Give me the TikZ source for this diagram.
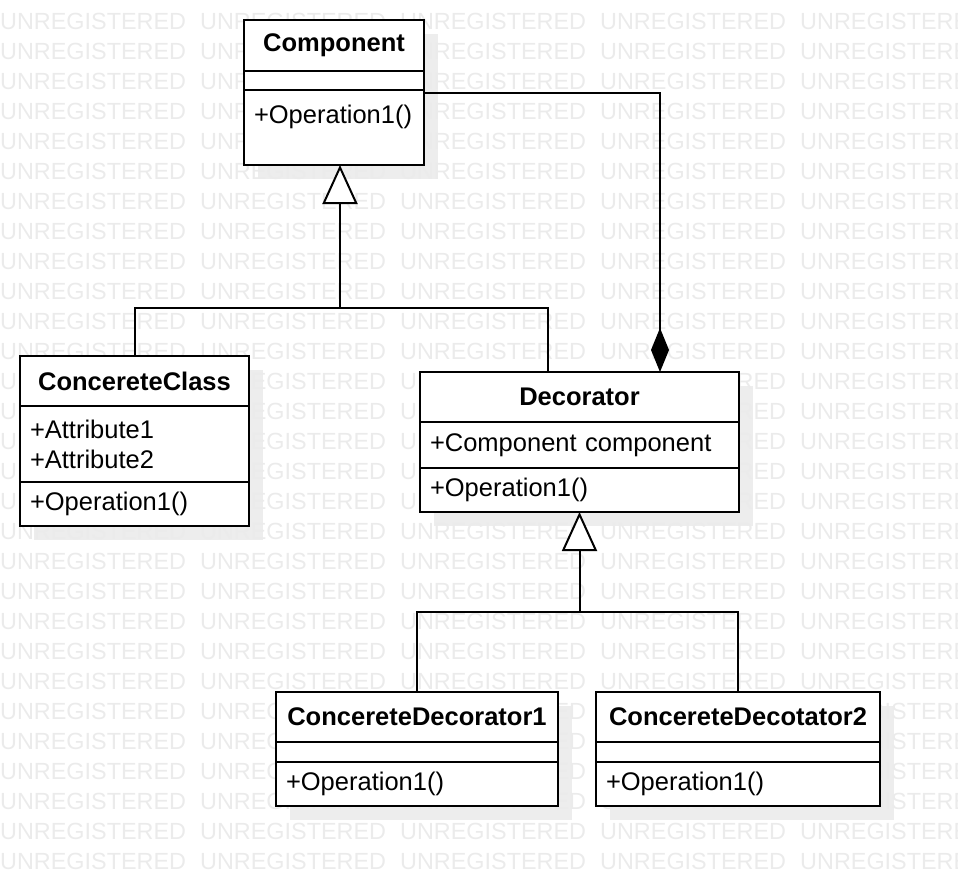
\documentclass[tikz,border=0pt]{standalone}
\usepackage{fontspec}
\setmainfont{Liberation Sans}
\usetikzlibrary{positioning,arrows.meta,backgrounds}

\begin{document}
\begin{tikzpicture}[x=1pt,y=-1pt,line width=2pt,
  every node/.style={font=\fontsize{25.5}{30}\selectfont},
  classhead/.style={draw,fill=white,outer sep=0pt,inner sep=0pt,minimum height=50pt,
    font=\fontsize{25.5}{30}\selectfont\bfseries},
  classpart/.style={draw,fill=white,outer sep=0pt,inner xsep=10pt,inner ysep=0pt,
    align=left,minimum height=44pt},
  wmark/.style={text=black!8,inner sep=0pt,anchor=base west,font=\fontsize{23.4}{28}\selectfont},
  boxshade/.style={fill=black!7,draw=none},
  gen/.style={-{Triangle[length=39pt,width=35pt,fill=white]}},
  owns/.style={-{Diamond[length=44pt,width=18pt]}}]

  \useasboundingbox (0,0) rectangle (958,886);

  % Component
  \node[classhead,minimum width=180pt,minimum height=51pt] (comphead) at (334,45.5) {Component};
  \node[classpart,text width=160pt,minimum height=19pt,below=0pt of comphead] (compattr) {};
  \node[classpart,text width=160pt,text height=33pt,text depth=42pt,below=0pt of compattr] (compops) {+Operation1()};

  % ConcereteClass
  \node[classhead,minimum width=229pt] (cchead) at (134.5,381) {ConcereteClass};
  \node[classpart,text width=209pt,minimum height=76pt,below=0pt of cchead] (ccattr) {+Attribute1\\+Attribute2};
  \node[classpart,text width=209pt,below=0pt of ccattr] (ccops) {+Operation1()};

  % Decorator
  \node[classhead,minimum width=319pt] (dechead) at (579.5,397) {Decorator};
  \node[classpart,text width=299pt,minimum height=46pt,below=0pt of dechead] (decattr) {+Component component};
  \node[classpart,text width=299pt,below=0pt of decattr] (decops) {+Operation1()};

  % concrete decorators
  \node[classhead,minimum width=282pt] (cd1head) at (417,717) {ConcereteDecorator1};
  \node[classpart,text width=262pt,minimum height=20pt,below=0pt of cd1head] (cd1attr) {};
  \node[classpart,text width=262pt,below=0pt of cd1attr] (cd1ops) {+Operation1()};

  \node[classhead,minimum width=284pt] (cd2head) at (738,717) {ConcereteDecotator2};
  \node[classpart,text width=264pt,minimum height=20pt,below=0pt of cd2head] (cd2attr) {};
  \node[classpart,text width=264pt,below=0pt of cd2attr] (cd2ops) {+Operation1()};

  \coordinate (compin) at ([xshift=6pt]compops.south);
  \coordinate (junc1) at (compin |- 0,308);
  \coordinate (decin) at ([xshift=-31.5pt]dechead.north);
  \coordinate (compout) at ([yshift=-3pt]compops.north east);
  \coordinate (decown) at ([xshift=80.5pt]dechead.north);
  \coordinate (junc2) at (decops.south |- 0,612);

  \draw (cchead.north) |- (junc1) -| (decin);
  \draw[gen] (junc1) -- (compin);
  \draw[owns] (compout) -| (decown);
  \draw (cd1head.north) |- (junc2) -| (cd2head.north);
  \draw[gen] (junc2) -- (decops.south);

  \begin{scope}[on background layer]
    \foreach \n in {comp,cc,dec,cd1,cd2}
      \fill[boxshade] ([shift={(14,14)}]\n head.north west) rectangle ([shift={(14,14)}]\n ops.south east);
    \foreach \r in {1,...,29}
      \foreach \c in {0,...,4}
        \node[wmark] (wm\r-\c) at (200*\c,30*\r-1) {UNREGISTERED};
  \end{scope}
\end{tikzpicture}
\end{document}
